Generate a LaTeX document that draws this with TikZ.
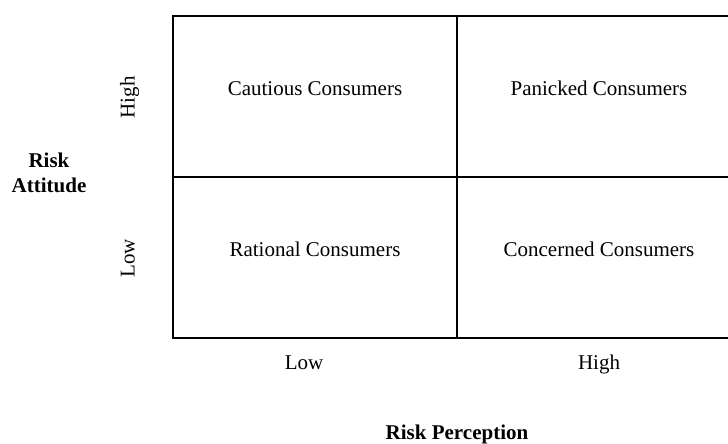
\documentclass[tikz,border=0pt]{standalone}
\usepackage{fontspec}
\setmainfont{Liberation Serif}
\usetikzlibrary{positioning}

\begin{document}
\begin{tikzpicture}[
  x=0.75pt, y=0.75pt,
  cell/.style={draw, line width=1.4pt, outer sep=0pt,
    minimum width=213pt, minimum height=120.75pt},
  quad/.style={font=\fontsize{15.75}{19}\selectfont},
  level/.style={font=\fontsize{15.75}{19}\selectfont, anchor=base},
  axis/.style={font=\fontsize{15.75}{19}\selectfont\bfseries, align=center}
]
  \useasboundingbox (0,0) rectangle (728,443);
  % the four quadrants
  \node[cell] (cau) at (315,346.5) {};
  \node[cell,right=0pt of cau] (pan) {};
  \node[cell,below=0pt of cau] (rat) {};
  \node[cell,below=0pt of pan] (con) {};
  \node[quad] (caut) at ([yshift=6pt]cau.center) {Cautious Consumers};
  \node[quad] (pant) at ([yshift=6pt]pan.center) {Panicked Consumers};
  \node[quad] (ratt) at ([yshift=6pt]rat.center) {Rational Consumers};
  \node[quad] (cont) at ([yshift=6pt]con.center) {Concerned Consumers};
  % levels on both axes
  \node[level,rotate=90] (yhigh) at (134.5,345.5) {High};
  \node[level,rotate=90] (ylow) at (134.5,184.5) {Low};
  \node[level] (xlow) at (304,74) {Low};
  \node[level] (xhigh) at (599,74) {High};
  % axis titles
  \node[axis] (att) at (49,270) {Risk\\Attitude};
  \node[axis,anchor=base] (per) at (457,4) {Risk Perception};
\end{tikzpicture}
\end{document}
